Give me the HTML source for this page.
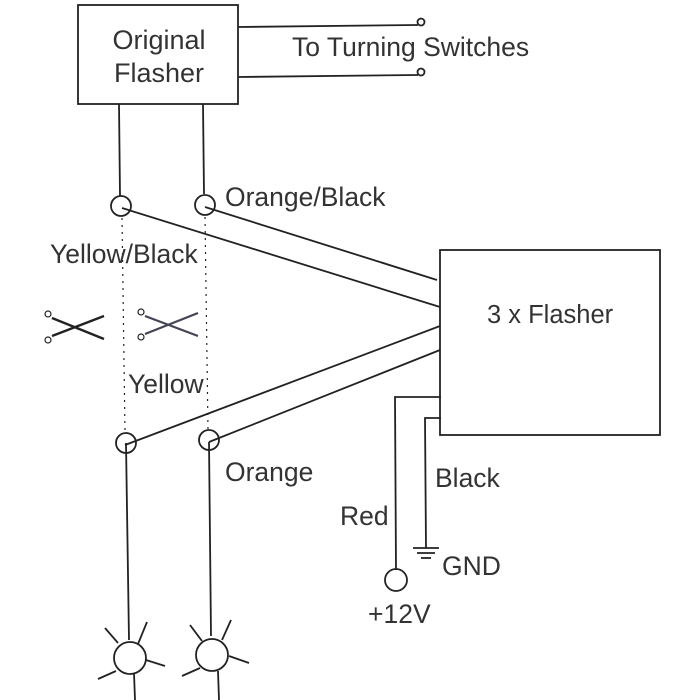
<!DOCTYPE html>
<html><head><style>body{margin:0;background:#fff}svg{display:block}</style></head><body>
<svg width="700" height="700" viewBox="0 0 700 700" xmlns="http://www.w3.org/2000/svg" font-family="Liberation Sans, sans-serif" fill="none" stroke="#222" stroke-width="1.8">
<rect x="78" y="5" width="160" height="99"/>
<text x="159" y="49" font-size="27" fill="#333" stroke="none" text-anchor="middle">Original</text>
<text x="159" y="82" font-size="27" fill="#333" stroke="none" text-anchor="middle">Flasher</text>
<line x1="238" y1="27" x2="418" y2="25"/><circle cx="421" cy="22" r="3.5"/>
<line x1="238" y1="77" x2="418" y2="75"/><circle cx="421" cy="72" r="3.5"/>
<text x="292" y="56" font-size="26.5" fill="#333" stroke="none">To Turning Switches</text>
<line x1="119" y1="104" x2="120" y2="196"/><line x1="203" y1="104" x2="204" y2="194"/>
<circle cx="121" cy="206" r="10"/><circle cx="205" cy="205" r="10"/>
<line x1="122" y1="208" x2="440" y2="307"/><line x1="205" y1="207" x2="437" y2="280"/>
<g stroke-dasharray="2,5" stroke-width="1.2"><line x1="122" y1="218" x2="125" y2="432"/><line x1="205" y1="217" x2="208" y2="430"/></g>
<circle cx="126" cy="443" r="10"/><circle cx="209" cy="440" r="10"/>
<line x1="125" y1="445" x2="440" y2="326"/><line x1="209" y1="442" x2="440" y2="350"/>
<line x1="126" y1="443" x2="129" y2="640"/><line x1="209" y1="442" x2="211" y2="636"/>
<g><circle cx="130" cy="658" r="16"/><line x1="134" y1="673" x2="135" y2="700"/>
<line x1="105" y1="628" x2="118" y2="643"/><line x1="138" y1="644" x2="147" y2="622"/><line x1="146" y1="660" x2="165" y2="666"/><line x1="98" y1="679" x2="116" y2="671"/>
<circle cx="212" cy="655" r="16"/><line x1="218" y1="671" x2="219" y2="700"/>
<line x1="190" y1="625" x2="202" y2="641"/><line x1="222" y1="640" x2="231" y2="620"/><line x1="229" y1="656" x2="249" y2="663"/><line x1="182" y1="676" x2="200" y2="668"/></g>
<rect x="440" y="250" width="220" height="185"/>
<text x="487" y="323" font-size="25.5" fill="#333" stroke="none">3 x Flasher</text>
<polyline points="441,397 395,397 396,570"/><circle cx="396" cy="580" r="11"/>
<polyline points="441,418 425,418 426,548"/>
<line x1="413" y1="548" x2="439" y2="548"/><line x1="417" y1="553" x2="435" y2="553"/><line x1="421" y1="558" x2="431" y2="558"/>
<g fill="#333" stroke="none" font-size="26.5">
<text x="225" y="206">Orange/Black</text><text x="50" y="263">Yellow/Black</text>
<text x="128" y="393">Yellow</text><text x="225" y="481">Orange</text>
<text x="340" y="525">Red</text><text x="435" y="487">Black</text>
<text x="442" y="575">GND</text><text x="368" y="623">+12V</text></g>
<g stroke-width="2.4"><line x1="52" y1="318" x2="104" y2="339"/><line x1="52" y1="336" x2="104" y2="316"/></g>
<g stroke-width="1.2"><circle cx="48" cy="314" r="3"/><circle cx="48" cy="340" r="3"/></g>
<g stroke="#445" stroke-width="2.2"><line x1="145" y1="316" x2="198" y2="336"/><line x1="145" y1="334" x2="198" y2="313"/></g>
<g stroke-width="1.2"><circle cx="141" cy="312" r="3"/><circle cx="141" cy="337" r="3"/></g>
</svg>
</body></html>
